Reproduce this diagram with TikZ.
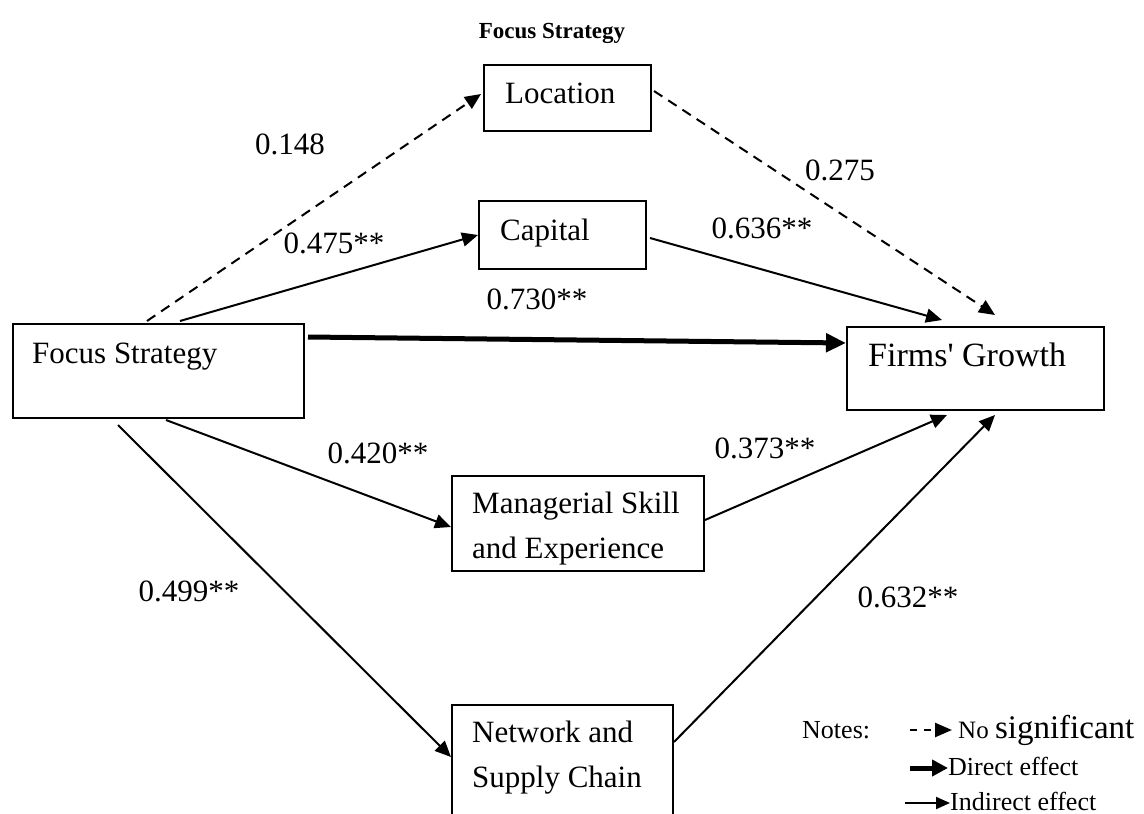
\documentclass[tikz,border=0pt]{standalone}
\usepackage{fontspec}
\setmainfont{Liberation Serif}
\usetikzlibrary{arrows.meta,calc}

% strut that fixes the top of the first text line above its baseline
\newcommand\tallstrut{\rule{0pt}{22pt}}

\begin{document}
\begin{tikzpicture}[x=1pt,y=-1pt,
  box/.style={draw, line width=2pt, anchor=north west, inner sep=0pt},
  txt/.style={anchor=north west, inner sep=0pt, align=left,
              font=\fontsize{31}{45}\selectfont},
  lab/.style={anchor=base, inner sep=0pt, font=\fontsize{31}{36}\selectfont},
  note/.style={anchor=base west, inner sep=0pt, font=\fontsize{26}{30}\selectfont},
  path/.style={line width=2pt, -{Triangle[length=16pt,width=14pt]}},
  nosig/.style={path, dash pattern=on 10pt off 7pt},
  direct/.style={line width=5pt, -{Triangle[length=20pt,width=18pt]}}
]
\useasboundingbox (0,0) rectangle (1144,814);

% heading
\node[anchor=base, inner sep=0pt, font=\fontsize{23}{28}\selectfont\bfseries]
  (title) at (552,38) {Focus Strategy};

% construct boxes
\node[box, minimum width=167pt, minimum height=66pt] (loc) at (483,64) {};
\node[box, minimum width=167pt, minimum height=68pt] (cap) at (478,200) {};
\node[box, minimum width=291pt, minimum height=94pt] (foc) at (12,323) {};
\node[box, minimum width=257pt, minimum height=83pt] (fg)  at (846,326) {};
\node[box, minimum width=252pt, minimum height=95pt] (man) at (451,475) {};
\node[box, minimum width=221pt, minimum height=112pt] (net) at (451,704) {};

% box texts
\node[txt] (loc-t) at (505,81)  {\tallstrut Location};
\node[txt] (cap-t) at (500,218) {\tallstrut Capital};
\node[txt] (foc-t) at (32,341)  {\tallstrut Focus Strategy};
\node[txt, font=\fontsize{34}{45}\selectfont] (fg-t) at (868,343)
  {\tallstrut Firms\textquotesingle{} Growth};
\node[txt] (man-t) at (472,491) {\tallstrut Managerial Skill\\and Experience};
\node[txt] (net-t) at (472,720) {\tallstrut Network and\\Supply Chain};

% paths
\draw[nosig]  ($(foc.north west)+(135,-2)$) -- ($(loc.west)+(-2,-4)$);
\draw[nosig]  ($(loc.east)+(2,-7)$) -- ($(fg.north west)+(149,-11)$);
\draw[path]   ($(foc.north west)+(168,-2)$) -- (cap.west);
\draw[path]   ($(cap.east)+(3,3)$) -- ($(fg.north west)+(96,-6)$);
\draw[direct] ($(foc.north east)+(3,14)$) -- ($(fg.north west)+(0,17)$);
\draw[path]   ($(foc.south west)+(154,1)$) -- ($(man.north west)+(0,52)$);
\draw[path]   ($(foc.south west)+(106,6)$) -- ($(net.north west)+(0,53)$);
\draw[path]   ($(man.north east)+(0,45)$) -- ($(fg.south west)+(101,4)$);
\draw[path]   ($(net.north east)+(0,38)$) -- ($(fg.south west)+(149,4)$);

% coefficients
\node[lab] (c-loc1) at (290,154) {0.148};
\node[lab] (c-cap1) at (334,253) {0.475**};
\node[lab] (c-loc2) at (840,180) {0.275};
\node[lab] (c-cap2) at (762,238) {0.636**};
\node[lab] (c-dir)  at (537,309) {0.730**};
\node[lab] (c-man1) at (378,463) {0.420**};
\node[lab] (c-man2) at (765,458) {0.373**};
\node[lab] (c-net1) at (189,601) {0.499**};
\node[lab] (c-net2) at (908,607) {0.632**};

% legend
\node[note] (notes) at (802,738) {Notes:};
\coordinate (k1a) at (910,730);
\coordinate (k1b) at (952,730);
\draw[line width=2.5pt, dash pattern=on 7pt off 7pt,
      -{Triangle[length=17pt,width=14pt]}] (k1a) -- (k1b);
\node[anchor=base west, inner sep=0pt] (k1) at (958,738)
  {\fontsize{25}{30}\selectfont No \fontsize{33}{36}\selectfont significant};
\coordinate (k2a) at (910,768);
\coordinate (k2b) at (948,768);
\draw[line width=5pt, -{Triangle[length=16pt,width=16pt]}] (k2a) -- (k2b);
\node[note] (k2) at (948,775) {Direct effect};
\coordinate (k3a) at (905,803);
\coordinate (k3b) at (950,803);
\draw[line width=2pt, -{Triangle[length=14pt,width=12pt]}] (k3a) -- (k3b);
\node[note] (k3) at (950,810) {Indirect effect};
\end{tikzpicture}
\end{document}
